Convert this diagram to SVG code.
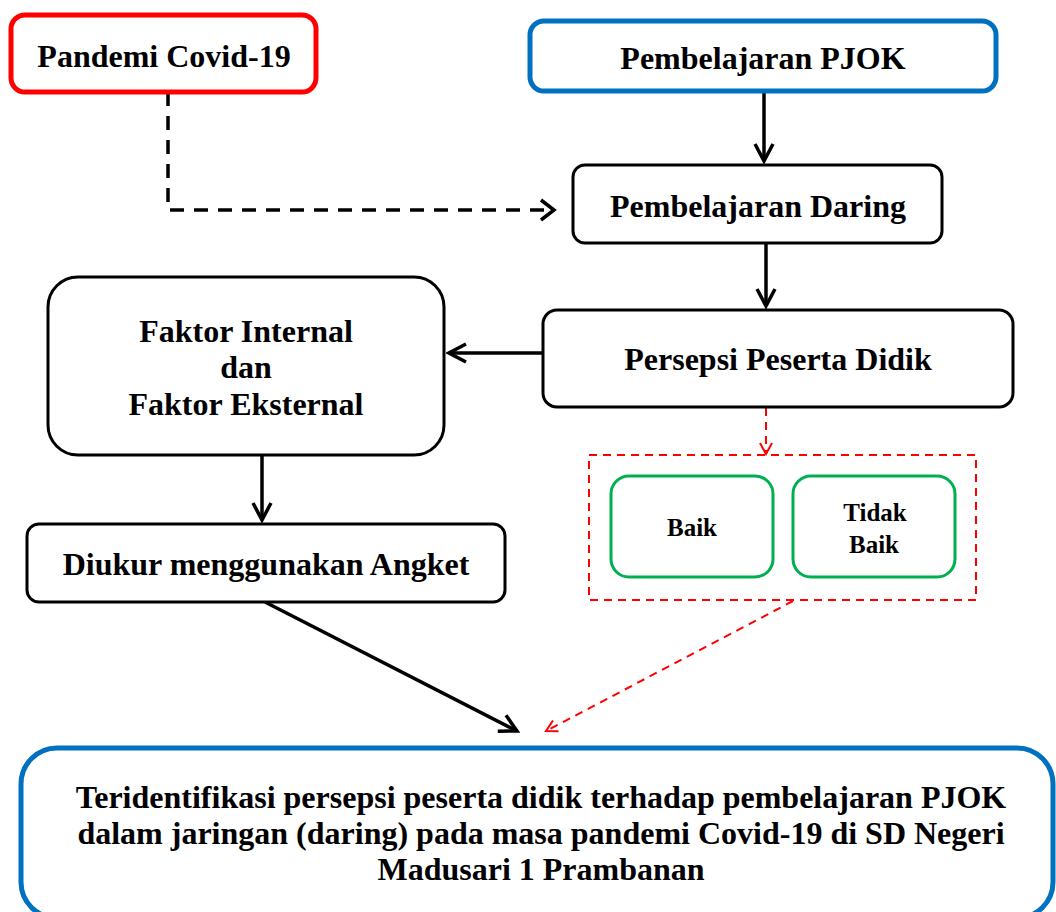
<svg xmlns="http://www.w3.org/2000/svg" width="1056" height="912" viewBox="0 0 1056 912">
<style>
.t{font-size:32px}
.s{font-size:25px}
.b{font-size:32px}
.box{fill:#fff;stroke:#000;stroke-width:3}
.red{fill:#fff;stroke:#ff0000;stroke-width:5}
.blue{fill:#fff;stroke:#0070c0;stroke-width:5}
.green{fill:#fff;stroke:#00b050;stroke-width:3}
.conn{fill:none;stroke:#000;stroke-width:3.5}
.dash{fill:none;stroke:#000;stroke-width:3.5;stroke-dasharray:14 10}
.rdash{fill:none;stroke:#ff0000;stroke-width:2;stroke-dasharray:8 6}
</style>
<defs>
<marker id="rah" markerWidth="14" markerHeight="14" refX="12" refY="7" orient="auto" markerUnits="userSpaceOnUse">
<path d="M1,1 L12,7 L1,13" fill="none" stroke="#ff0000" stroke-width="2"/>
</marker>
<marker id="ahb" markerWidth="22" markerHeight="22" refX="19" refY="11" orient="auto" markerUnits="userSpaceOnUse">
<path d="M2,2 L19,11 L2,20" fill="none" stroke="#000" stroke-width="3.5"/>
</marker>
</defs>
<g id="connectors">
<path class="dash" d="M168,92 V210 H553"/>
<path d="M541,200 L554,210 L541,220" fill="none" stroke="#000" stroke-width="3.5"/>
<path class="conn" d="M764,91 V161" marker-end="url(#ahb)"/>
<path class="conn" d="M766,243 V306" marker-end="url(#ahb)"/>
<path class="conn" d="M543,353 H449" marker-end="url(#ahb)"/>
<path class="conn" d="M262,455 V520" marker-end="url(#ahb)"/>
<path class="conn" d="M265,602 L517,731" marker-end="url(#ahb)"/>
<path class="rdash" d="M766,408 V454" marker-end="url(#rah)"/>
<path class="rdash" d="M793,601 L546,731" marker-end="url(#rah)"/>
</g>
<g font-family="Liberation Serif, Times New Roman, serif" font-weight="bold" text-anchor="middle" fill="#000">
<g id="pandemi">
<rect class="red" x="11" y="15" width="305" height="77" rx="14"/>
<text class="t" x="164" y="67">Pandemi Covid-19</text>
</g>
<g id="pjok">
<rect class="blue" x="530" y="21" width="466" height="70" rx="14"/>
<text class="t" x="763" y="69">Pembelajaran PJOK</text>
</g>
<g id="daring">
<rect class="box" x="573" y="165" width="369" height="78" rx="12"/>
<text class="t" x="758" y="217">Pembelajaran Daring</text>
</g>
<g id="persepsi">
<rect class="box" x="543" y="310" width="470" height="97" rx="14"/>
<text class="t" x="778" y="370">Persepsi Peserta Didik</text>
</g>
<g id="faktor">
<rect class="box" x="48" y="277" width="396" height="178" rx="30"/>
<text class="t" x="246" y="342">Faktor Internal</text>
<text class="t" x="246" y="378">dan</text>
<text class="t" x="246" y="415">Faktor Eksternal</text>
</g>
<g id="diukur">
<rect class="box" x="27" y="524" width="478" height="78" rx="12"/>
<text class="t" x="266" y="575">Diukur menggunakan Angket</text>
</g>
<g id="kategori">
<rect class="rdash" x="589" y="455" width="387" height="145"/>
</g>
<g id="baik">
<rect class="green" x="611" y="476" width="162" height="101" rx="18"/>
<text class="s" x="692" y="536">Baik</text>
</g>
<g id="tidakbaik">
<rect class="green" x="793" y="476" width="162" height="101" rx="18"/>
<text class="s" x="875" y="521">Tidak</text>
<text class="s" x="874" y="553">Baik</text>
</g>
<g id="hasil">
<rect class="blue" x="21" y="748" width="1032" height="170" rx="36" stroke-width="6"/>
<text class="b" x="541" y="808">Teridentifikasi persepsi peserta didik terhadap pembelajaran PJOK</text>
<text class="b" x="541" y="844">dalam jaringan (daring) pada masa pandemi Covid-19 di SD Negeri</text>
<text class="b" x="541" y="880">Madusari 1 Prambanan</text>
</g>
</g>
</svg>
